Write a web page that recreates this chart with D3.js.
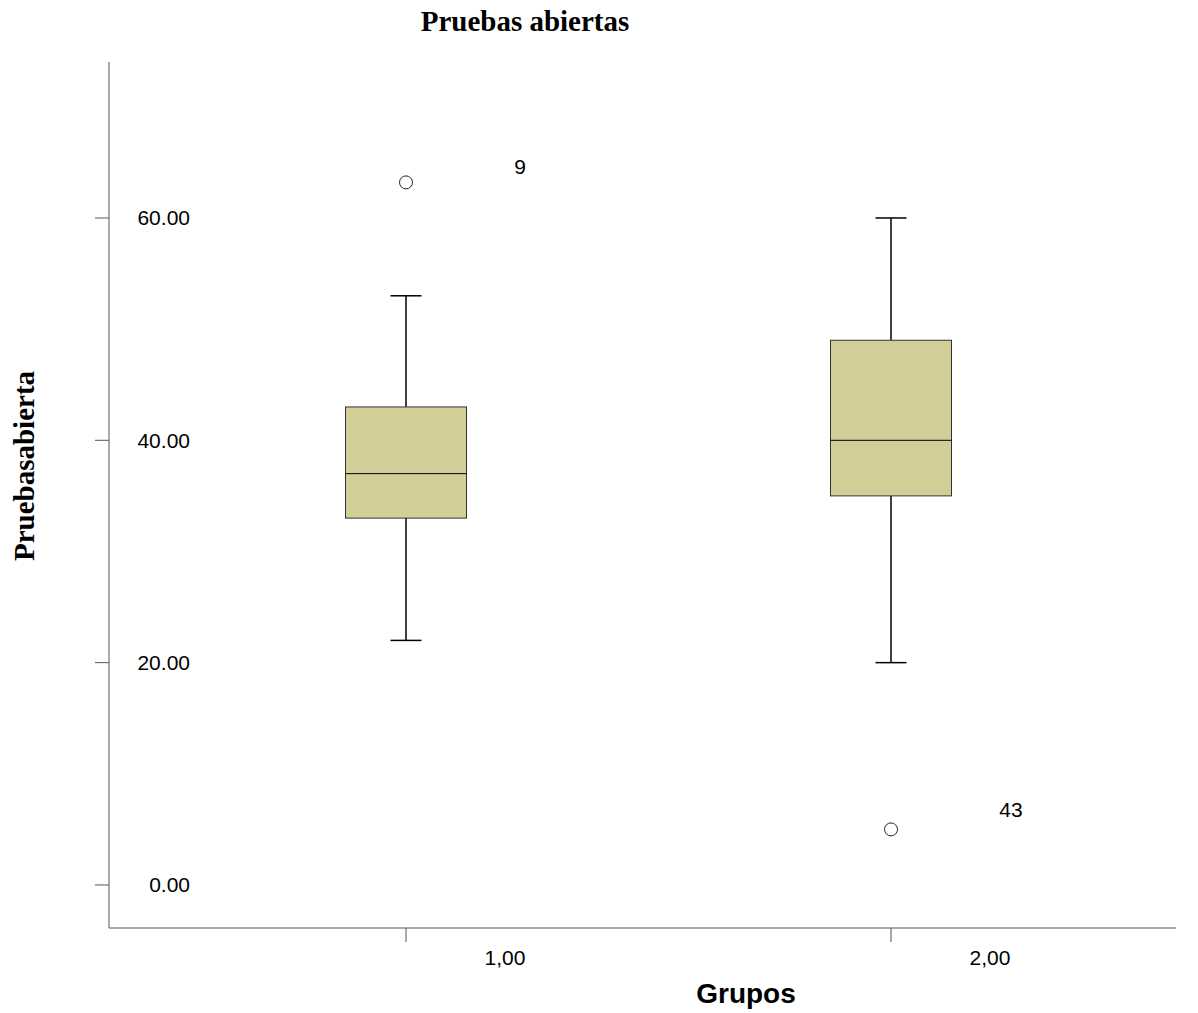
<!DOCTYPE html>
<html><head><meta charset="utf-8">
<script src="https://cdn.jsdelivr.net/npm/d3@7/dist/d3.min.js"></script>
<style>body{margin:0;background:#fff}</style>
</head><body>
<script>
const categories = ["1,00", "2,00"];
const whiskerLow = [22, 20];
const q1 = [33, 35];
const median = [37, 40];
const q3 = [43, 49];
const whiskerHigh = [53, 60];
const outliers = [{group: "1,00", value: 63.2, label: "9"}, {group: "2,00", value: 5, label: "43"}];
const yTicks = [0, 20, 40, 60];

const W = 1198, H = 1013;
const svg = d3.select("body").append("svg").attr("width", W).attr("height", H);

const x = d3.scalePoint().domain(categories).range([406, 891]);
const y = d3.scaleLinear().domain([-3.87, 74.03]).range([928, 62]);
const boxW = 121, capW = 31;
const axisCol = "#555";
const sans = "'Liberation Sans', Arial, sans-serif";
const serif = "'Liberation Serif', 'Times New Roman', serif";

// axes lines
svg.append("line").attr("x1", 109).attr("x2", 109).attr("y1", 62).attr("y2", 928).attr("stroke", axisCol).attr("stroke-width", 1);
svg.append("line").attr("x1", 109).attr("x2", 1176).attr("y1", 928).attr("y2", 928).attr("stroke", axisCol).attr("stroke-width", 1);

// y ticks
yTicks.forEach(t => {
  svg.append("line").attr("x1", 95).attr("x2", 109).attr("y1", y(t)).attr("y2", y(t)).attr("stroke", axisCol);
  svg.append("text").attr("x", 190).attr("y", y(t)).attr("dy", "0.35em").attr("text-anchor", "end")
    .attr("font-family", sans).attr("font-size", 21).attr("fill", "#000")
    .text(d3.format(".2f")(t));
});

// x ticks
categories.forEach(c => {
  svg.append("line").attr("x1", x(c)).attr("x2", x(c)).attr("y1", 928).attr("y2", 942).attr("stroke", axisCol);
  svg.append("text").attr("x", x(c) + 99).attr("y", 958).attr("dy", "0.35em").attr("text-anchor", "middle")
    .attr("font-family", sans).attr("font-size", 21).attr("fill", "#000").text(c);
});

// boxes
categories.forEach((c, i) => {
  const cx = x(c);
  const g = svg.append("g");
  g.append("line").attr("x1", cx).attr("x2", cx).attr("y1", y(whiskerHigh[i])).attr("y2", y(q3[i])).attr("stroke", "#000").attr("stroke-width", 1.5);
  g.append("line").attr("x1", cx).attr("x2", cx).attr("y1", y(q1[i])).attr("y2", y(whiskerLow[i])).attr("stroke", "#000").attr("stroke-width", 1.5);
  g.append("line").attr("x1", cx - capW/2).attr("x2", cx + capW/2).attr("y1", y(whiskerHigh[i])).attr("y2", y(whiskerHigh[i])).attr("stroke", "#000").attr("stroke-width", 1.5);
  g.append("line").attr("x1", cx - capW/2).attr("x2", cx + capW/2).attr("y1", y(whiskerLow[i])).attr("y2", y(whiskerLow[i])).attr("stroke", "#000").attr("stroke-width", 1.5);
  g.append("rect").attr("x", cx - boxW/2).attr("y", y(q3[i])).attr("width", boxW).attr("height", y(q1[i]) - y(q3[i]))
    .attr("fill", "#d3ce97").attr("stroke", "#333").attr("stroke-width", 1);
  g.append("line").attr("x1", cx - boxW/2).attr("x2", cx + boxW/2).attr("y1", y(median[i])).attr("y2", y(median[i])).attr("stroke", "#000").attr("stroke-width", 1);
});

// outliers
outliers.forEach(o => {
  const two = o.label.length > 1;
  svg.append("circle").attr("cx", x(o.group)).attr("cy", y(o.value)).attr("r", 6.5).attr("fill", "#fff").attr("stroke", "#222").attr("stroke-width", 1);
  svg.append("text").attr("x", x(o.group) + (two ? 120 : 114)).attr("y", y(o.value) - (two ? 20 : 16)).attr("dy", "0.35em")
    .attr("text-anchor", "middle").attr("font-family", sans).attr("font-size", 21).text(o.label);
});

// titles
svg.append("text").attr("x", 525).attr("y", 31).attr("text-anchor", "middle")
  .attr("font-family", serif).attr("font-weight", "bold").attr("font-size", 29).text("Pruebas abiertas");
svg.append("text").attr("transform", "translate(34,466) rotate(-90)").attr("text-anchor", "middle")
  .attr("font-family", serif).attr("font-weight", "bold").attr("font-size", 29).text("Pruebasabierta");
svg.append("text").attr("x", 746).attr("y", 1003).attr("text-anchor", "middle")
  .attr("font-family", sans).attr("font-weight", "bold").attr("font-size", 28).text("Grupos");
</script>
</body></html>
